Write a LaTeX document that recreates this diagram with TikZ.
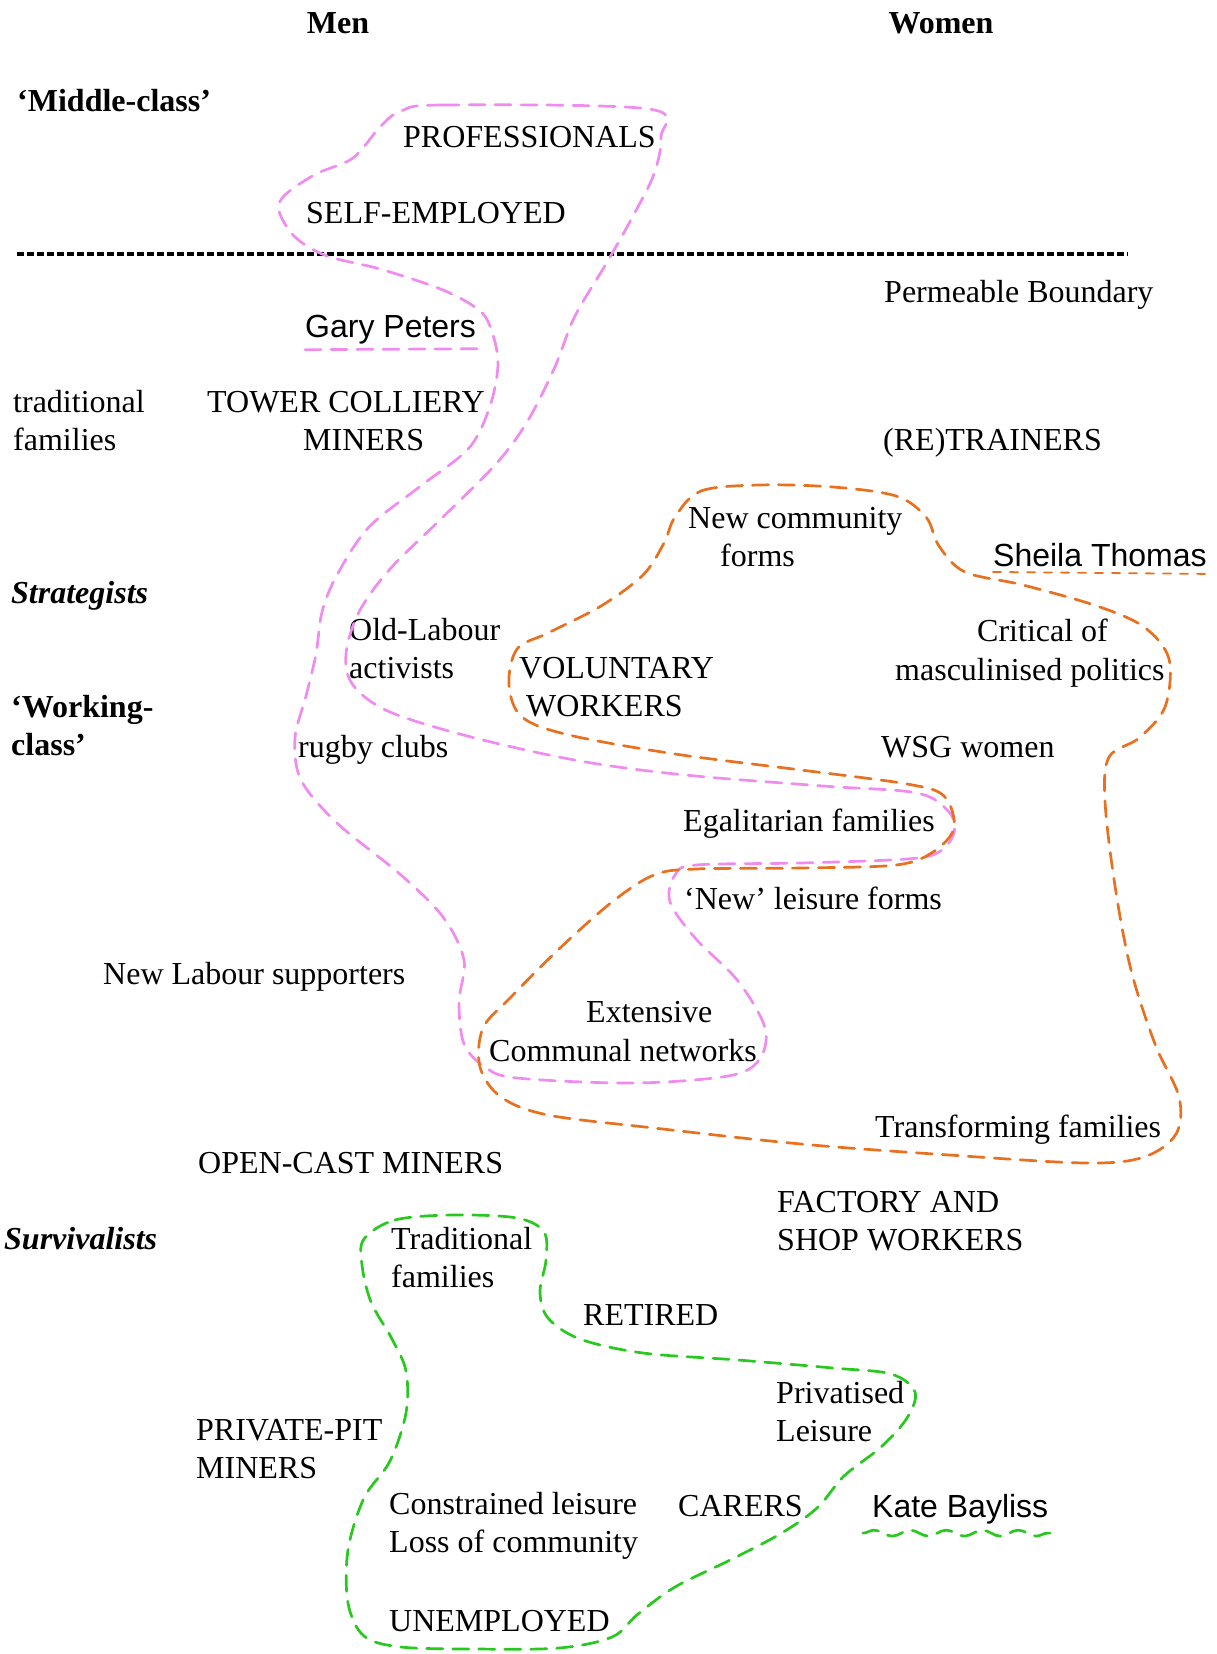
\documentclass[tikz,border=0pt]{standalone}
\usepackage{fontspec}
\setmainfont{Liberation Serif}
\newfontfamily\namefont{Liberation Sans}
\usetikzlibrary{decorations.pathmorphing}

\definecolor{pinkish}{RGB}{240,140,240}
\definecolor{orangeish}{RGB}{232,112,30}
\definecolor{greenish}{RGB}{40,200,30}

\begin{document}
\begin{tikzpicture}[
    x=1pt, y=-1pt,
    lbl/.style={anchor=west, inner sep=0pt, align=left, font=\fontsize{32}{38}\selectfont},
    head/.style={lbl, font=\fontsize{32}{38}\selectfont\bfseries},
    side/.style={lbl, font=\fontsize{32}{38}\selectfont\bfseries\itshape},
    who/.style={lbl, font=\fontsize{32}{38}\selectfont\namefont},
    blob/.style={dash pattern=on 16pt off 10pt, line width=2.7pt, line cap=round},
    divider/.style={dash pattern=on 7pt off 3pt, line width=3.5pt}
]
    \useasboundingbox (0,0) rectangle (1217,1654);

    % column heads and class bands
    \node[head, anchor=center] (men) at (338,23) {Men};
    \node[head, anchor=center] (women) at (941,23) {Women};
    \node[head] (midclass) at (17,101) {`Middle-class'};
    \node[side] (strat) at (11,596) {Strategists};
    \node[head] (workclass) at (11,726) {`Working-\\class'};
    \node[side] (surv) at (4,1239) {Survivalists};

    \coordinate (rule west) at (17,254);
    \coordinate (rule east) at (1128,254);
    \draw[divider] (rule west) -- (rule east);

    % men
    \node[lbl] (prof) at (403,137) {PROFESSIONALS};
    \node[lbl] (selfemp) at (306,213) {SELF-EMPLOYED};
    \node[who] (gary) at (305,330) {Gary Peters};
    \node[lbl] (tradfam) at (13,421) {traditional\\families};
    \node[lbl] (tower) at (207,402) {TOWER COLLIERY};
    \node[lbl] (towerm) at (303,440) {MINERS};
    \node[lbl] (oldlab) at (349,649) {Old-Labour\\activists};
    \node[lbl] (rugby) at (298,750) {rugby clubs};
    \node[lbl] (newlab) at (103,977) {New Labour supporters};
    \node[lbl] (opencast) at (198,1163) {OPEN-CAST MINERS};
    \node[lbl] (privpit) at (196,1449) {PRIVATE-PIT\\MINERS};

    % women
    \node[lbl] (perm) at (884,295) {Permeable Boundary};
    \node[lbl] (retrain) at (883,443) {(RE)TRAINERS};
    \node[who] (sheila) at (993,555) {Sheila Thomas};
    \node[lbl] (critical) at (977,630) {Critical of};
    \node[lbl] (masc) at (895,673) {masculinised politics};
    \node[lbl] (wsg) at (881,747) {WSG women};
    \node[lbl] (transf) at (875,1130) {Transforming families};
    \node[lbl] (factory) at (777,1221) {FACTORY AND\\SHOP WORKERS};
    \node[who] (kate) at (872,1509) {Kate Bayliss};

    % shared middle ground
    \node[lbl] (newcomm) at (688,521) {New community};
    \node[lbl] (forms) at (720,555) {forms};
    \node[lbl] (volun) at (519,668) {VOLUNTARY};
    \node[lbl] (volunw) at (526,706) {WORKERS};
    \node[lbl] (egal) at (683,824) {Egalitarian families};
    \node[lbl] (newleis) at (684,898) {`New' leisure forms};
    \node[lbl] (extens) at (586,1012) {Extensive};
    \node[lbl] (communal) at (489,1051) {Communal networks};
    \node[lbl] (tradfam2) at (391,1258) {Traditional\\families};
    \node[lbl] (retired) at (583,1315) {RETIRED};
    \node[lbl] (privleis) at (776,1412) {Privatised\\Leisure};
    \node[lbl] (constr) at (389,1526) {Constrained leisure\\Loss of community};
    \node[lbl] (carers) at (678,1506) {CARERS};
    \node[lbl] (unemp) at (389,1621) {UNEMPLOYED};

    % pink trajectory
    \draw[blob, pinkish] plot[smooth cycle, tension=0.55] coordinates {
        (401,111) (443,105) (649,109) (661,137) (654,174) (633,216)
        (606,264) (575,316) (554,369) (527,422) (496,464) (443,517)
        (390,569) (359,612) (346,654) (353,685) (390,712) (475,738)
        (580,761) (685,775) (823,786) (917,793) (949,812) (954,833)
        (939,852) (907,859) (801,863) (696,865) (675,875) (670,902)
        (696,939) (738,981) (765,1028) (759,1060) (728,1076) (633,1083)
        (517,1078) (485,1067) (464,1044) (459,1002) (464,960) (443,917)
        (401,875) (337,823) (301,780) (295,738) (306,696) (316,654)
        (322,612) (337,575) (369,527) (422,485) (469,448) (490,406)
        (498,364) (492,332) (480,311) (443,290) (380,269) (327,256)
        (295,237) (279,211) (285,195) (316,174) (353,158) (380,127)};
    \draw[blob, pinkish] ([yshift=-5pt]gary.south west) -- ([xshift=9pt,yshift=-4pt]gary.south east);

    % orange trajectory
    \draw[blob, orangeish] plot[smooth cycle, tension=0.55] coordinates {
        (675,517) (701,491) (759,485) (833,487) (896,496) (926,517)
        (939,546) (965,572) (1023,585) (1097,606) (1144,627) (1169,659)
        (1165,707) (1139,738) (1109,757) (1105,801) (1115,886) (1131,970)
        (1155,1044) (1179,1097) (1176,1134) (1144,1157) (1086,1163) (949,1155)
        (801,1144) (654,1128) (548,1115) (501,1097) (480,1067) (483,1028)
        (511,997) (559,949) (612,902) (654,875) (696,869) (801,868)
        (896,865) (933,852) (954,828) (944,796) (907,784) (801,770)
        (675,754) (569,735) (522,717) (509,685) (517,649) (548,633)
        (601,606) (643,575) (664,543)};
    \draw[blob, orangeish, line width=1.8pt, dash pattern=on 8pt off 9pt]
        ([yshift=-5pt]sheila.south west) -- ([xshift=4pt,yshift=-7pt]sheila.south east);

    % green trajectory
    \draw[blob, greenish] plot[smooth cycle, tension=0.55] coordinates {
        (364,1239) (395,1220) (453,1215) (517,1218) (544,1232) (546,1260)
        (540,1292) (548,1318) (580,1339) (643,1353) (738,1360) (833,1368)
        (891,1374) (915,1392) (907,1418) (881,1447) (844,1476) (817,1508)
        (780,1534) (728,1561) (675,1587) (638,1614) (612,1637) (559,1648)
        (475,1649) (401,1647) (364,1636) (348,1603) (348,1550) (364,1498)
        (390,1461) (406,1413) (406,1371) (392,1339) (371,1302) (362,1265)};
    \draw[blob, greenish, decorate, decoration={snake, amplitude=3pt, segment length=36pt}]
        ([xshift=-9pt,yshift=-9pt]kate.south west) -- ([xshift=6pt,yshift=-9pt]kate.south east);
\end{tikzpicture}
\end{document}
